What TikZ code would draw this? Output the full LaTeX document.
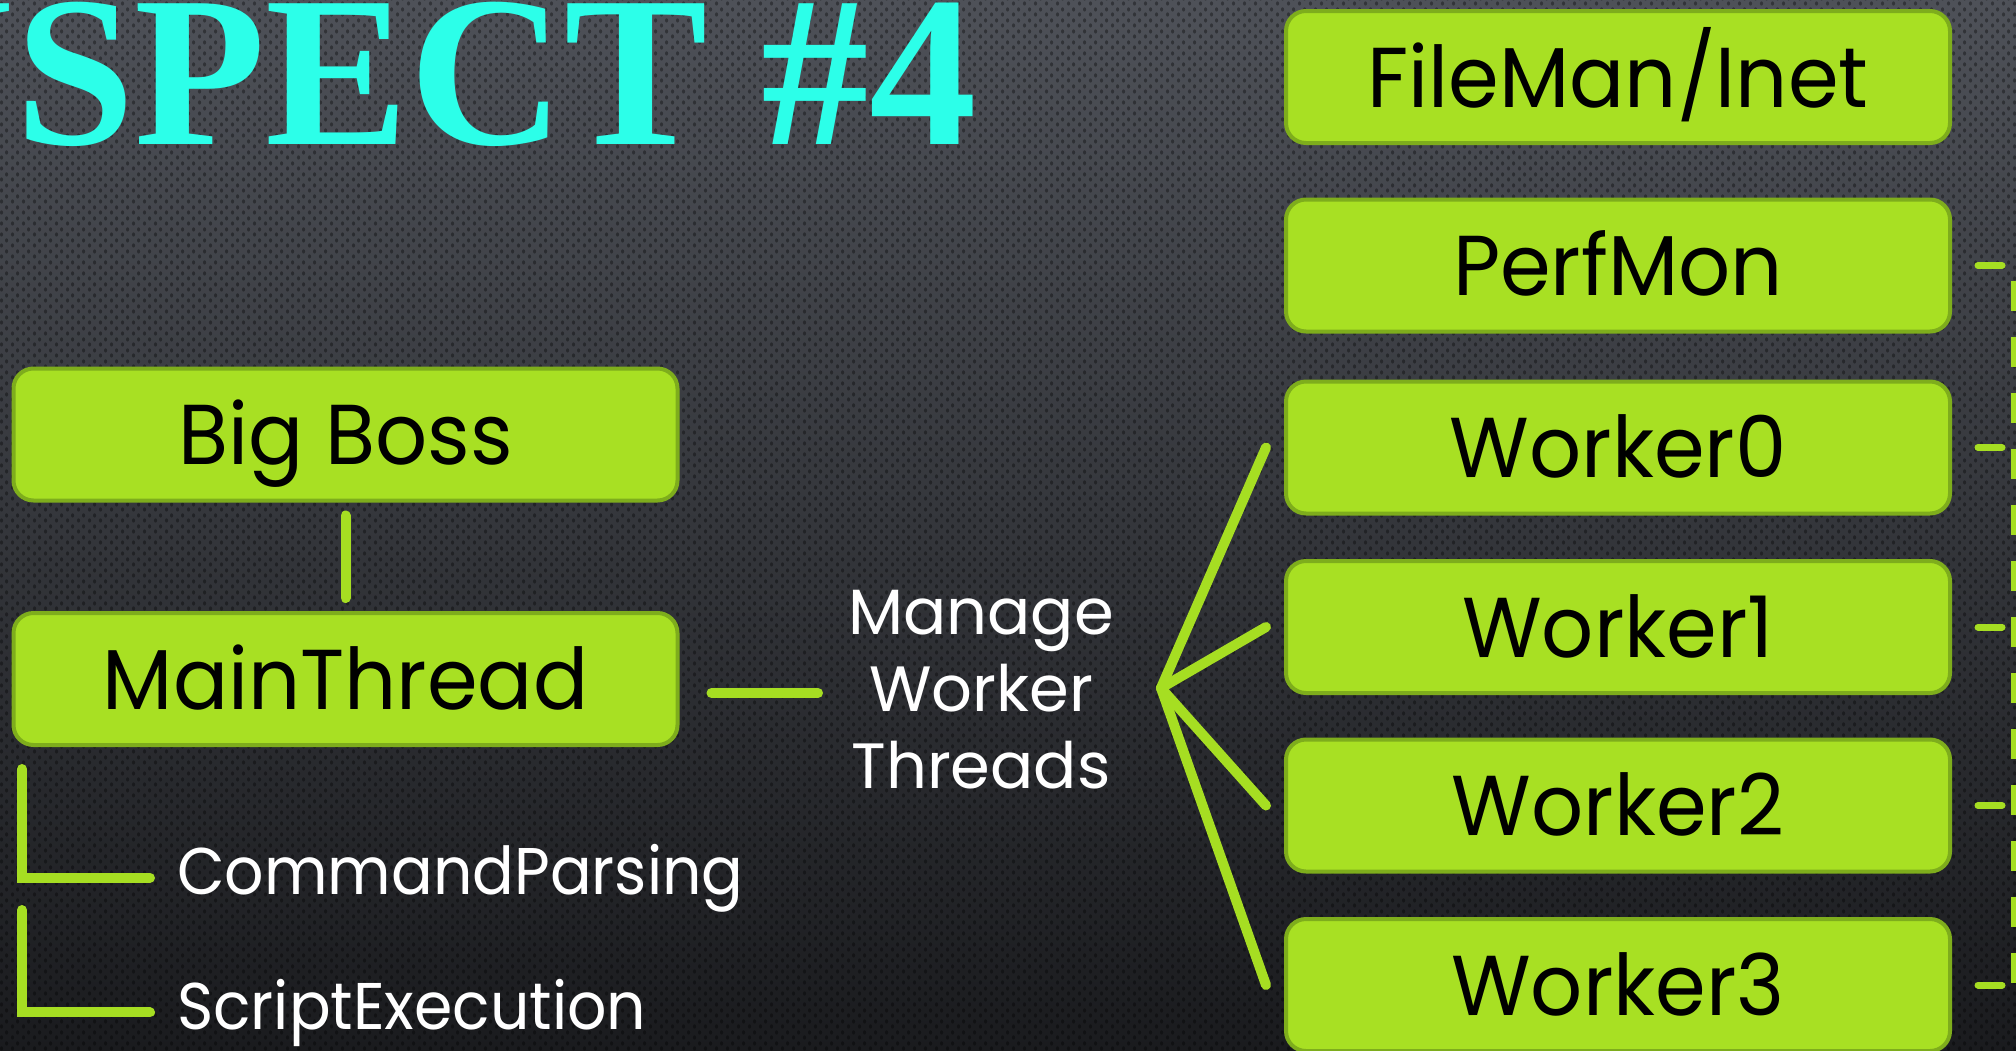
\documentclass[tikz,border=0pt]{standalone}
\usepackage{fontspec}
\setmainfont{Poppins}
\newfontfamily\boxfont{Poppins}[FakeStretch=0.96]
\newfontfamily\labfont{Poppins}[FakeStretch=0.935]
\newfontfamily\titlefont{Liberation Serif}
\usetikzlibrary{patterns}
\definecolor{lime}{HTML}{A8E023}
\definecolor{limeedge}{HTML}{7EAD1C}
\definecolor{limeline}{HTML}{A6DE22}
\definecolor{cyanT}{HTML}{2CFFE9}
\definecolor{bgtop}{HTML}{4E5158}
\definecolor{bgmid}{HTML}{33363B}
\definecolor{bgbot}{HTML}{1A1B1E}
\pgfdeclarepatternformonly{holes}{\pgfqpoint{0pt}{0pt}}{\pgfqpoint{11pt}{11pt}}{\pgfqpoint{11pt}{11pt}}{%
  \pgfpathellipse{\pgfqpoint{2.75pt}{2.75pt}}{\pgfqpoint{1.7pt}{0pt}}{\pgfqpoint{0pt}{2.3pt}}%
  \pgfpathellipse{\pgfqpoint{8.25pt}{8.25pt}}{\pgfqpoint{1.7pt}{0pt}}{\pgfqpoint{0pt}{2.3pt}}%
  \pgfusepath{fill}}
\tikzset{
  box/.style={rounded corners=20pt, draw=limeedge, line width=4pt, fill=lime,
    minimum width=664pt, minimum height=132pt, inner sep=0pt, text=black,
    font=\boxfont\fontsize{85}{85}\selectfont, text height=60pt, text depth=0pt},
  conn/.style={draw=limeline, line width=10pt, line cap=round},
  rdash/.style={draw=limeline, line width=7pt, line cap=round},
  wlabel/.style={text=white, inner sep=0pt, font=\labfont\fontsize{66}{66}\selectfont},
}
\begin{document}
\begin{tikzpicture}[x=1pt,y=-1pt]
\useasboundingbox (0,0) rectangle (2016,1050);
\clip (0,0) rectangle (2016,1050);
\shade[top color=bgtop, middle color=bgmid, bottom color=bgbot] (0,0) rectangle (2016,1050);
\fill[pattern=holes, pattern color=black, fill opacity=0.35] (0,0) rectangle (2016,1050);

% title
\node[anchor=base east, inner sep=0pt, text=cyanT,
  font=\titlefont\bfseries\fontsize{215}{215}\selectfont] (title) at (977,144) {USPECT \#4};

% left tree
\node[box] (bigboss) at (345.5,434.5) {Big Boss};
\node[box] (mainthread) at (345.5,679) {MainThread};
\draw[conn, shorten <=13pt, shorten >=13pt] (bigboss.south) -- (mainthread.north);

\node[wlabel, anchor=base west] (cmd) at (177,894) {CommandParsing};
\node[wlabel, anchor=base west] (script) at (177,1029) {ScriptExecution};
\coordinate (l1) at (22,769);
\coordinate (l2) at (22,910);
\draw[conn] (l1) |- ([xshift=-27pt]cmd.west);
\draw[conn] (l2) |- ([xshift=-27pt]script.west);

% manage
\node[text=white, align=center, inner sep=0pt, font=\fontsize{64}{77}\selectfont] (manage) at (981,690)
  {Manage\\Worker\\Threads};
\draw[conn] ([xshift=32pt]mainthread.east |- 0,693) -- ([xshift=-30pt]manage.west |- 0,693);

% right column
\node[box] (fileman) at (1618,77) {FileMan/Inet};
\node[box] (perfmon) at (1618,265.5) {PerfMon};
\node[box] (worker0) at (1618,447.5) {Worker0};
\node[box] (worker1) at (1618,627) {Worker1};
\node[box] (worker2) at (1618,805.5) {Worker2};
\node[box] (worker3) at (1618,985) {Worker3};

\coordinate (fan) at (1161,688);
\foreach \w in {worker0,worker1,worker2,worker3}{
  \draw[conn] (fan) -- ([xshift=-18pt]\w.west);
}
\foreach \w in {perfmon,worker0,worker1,worker2,worker3}{
  \draw[rdash] ([xshift=26pt]\w.east) -- ([xshift=50pt]\w.east);
}
\coordinate (vtop) at (2014,281);
\coordinate (vbot) at (2014,1005);
\draw[draw=limeline, line width=7pt, dash pattern=on 30pt off 26pt] (vtop) -- (vbot);
\end{tikzpicture}
\end{document}
